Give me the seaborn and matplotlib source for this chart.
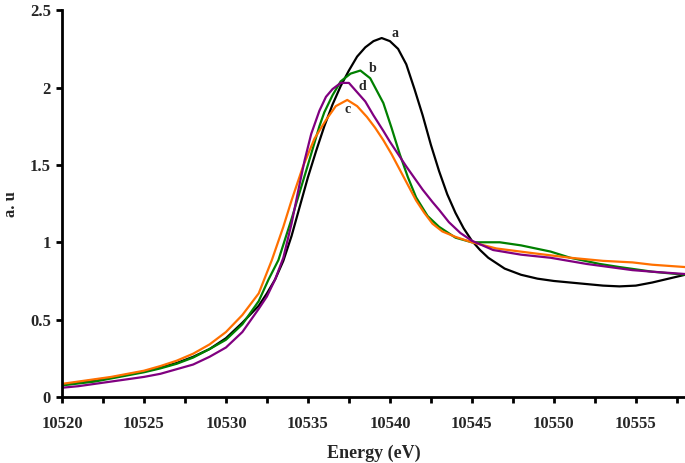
import pandas as pd
import matplotlib
matplotlib.use('Agg')
import matplotlib.pyplot as plt
from matplotlib.ticker import MultipleLocator
import seaborn as sns

# XANES spectra
energy_a = [10520, 10521, 10522, 10523, 10524, 10525, 10526, 10527, 10528, 10529,
            10530, 10531, 10532, 10532.5, 10533, 10533.5, 10534, 10534.5, 10535, 10535.5,
            10536, 10536.5, 10537, 10537.5, 10538, 10538.5, 10539, 10539.5, 10540, 10540.5,
            10541, 10541.5, 10542, 10542.5, 10543, 10543.5, 10544, 10544.5, 10545, 10545.5,
            10546, 10547, 10548, 10549, 10550, 10551, 10552, 10553, 10554, 10555,
            10556, 10557, 10558]
au_a = [0.08, 0.095, 0.11, 0.125, 0.145, 0.165, 0.19, 0.22, 0.26, 0.31,
        0.38, 0.48, 0.59, 0.67, 0.76, 0.88, 1.04, 1.23, 1.42, 1.59,
        1.75, 1.89, 2.01, 2.11, 2.20, 2.26, 2.30, 2.32, 2.30, 2.25,
        2.15, 1.99, 1.82, 1.63, 1.46, 1.31, 1.19, 1.09, 1.01, 0.95,
        0.90, 0.83, 0.79, 0.765, 0.75, 0.74, 0.73, 0.72, 0.715, 0.72,
        0.74, 0.765, 0.79]

energy_b = [10520, 10522, 10524, 10525, 10526, 10527, 10528, 10529, 10530, 10531,
            10532, 10532.6, 10533.2, 10534, 10535, 10535.7, 10536, 10536.5, 10537, 10537.6,
            10538.2, 10538.8, 10539.6, 10540.1, 10540.6, 10541.1, 10541.6, 10542.3, 10543, 10544,
            10545, 10546.7, 10548, 10549.8, 10551, 10552.8, 10554, 10556, 10558]
au_b = [0.075, 0.10, 0.14, 0.16, 0.185, 0.215, 0.255, 0.31, 0.37, 0.47,
        0.62, 0.76, 0.885, 1.15, 1.50, 1.75, 1.84, 1.95, 2.04, 2.09,
        2.11, 2.06, 1.90, 1.74, 1.57, 1.42, 1.29, 1.17, 1.10, 1.03,
        1.0, 1.0, 0.98, 0.94, 0.90, 0.86, 0.84, 0.81, 0.79]

energy_c = [10520, 10521, 10522, 10523, 10524, 10525, 10526, 10527, 10528, 10529,
            10530, 10531, 10532, 10532.8, 10533.5, 10534, 10534.7, 10535.4, 10536.1, 10536.7,
            10537.4, 10538, 10538.6, 10539.1, 10539.6, 10540.1, 10540.6, 10541.1, 10541.6, 10542.1,
            10542.6, 10543.2, 10544, 10545, 10546.5, 10548.7, 10551, 10553, 10554.8, 10556,
            10558]
au_c = [0.085, 0.10, 0.115, 0.13, 0.15, 0.17, 0.20, 0.235, 0.28, 0.34,
        0.42, 0.53, 0.67, 0.885, 1.10, 1.27, 1.49, 1.67, 1.79, 1.88,
        1.92, 1.88, 1.81, 1.74, 1.66, 1.57, 1.47, 1.37, 1.27, 1.19,
        1.12, 1.07, 1.035, 1.0, 0.96, 0.93, 0.90, 0.88, 0.87, 0.855,
        0.84]

energy_d = [10520, 10521, 10522, 10523, 10524, 10525, 10526, 10527, 10528, 10529,
            10530, 10531, 10532, 10532.5, 10533, 10533.5, 10534, 10534.5, 10534.8, 10535.2,
            10535.7, 10536.1, 10536.5, 10537, 10537.5, 10538, 10538.5, 10539, 10539.6, 10540,
            10540.5, 10541, 10541.6, 10542, 10542.6, 10543, 10543.6, 10544.3, 10545, 10546.3,
            10548, 10549.8, 10552, 10554.8, 10556, 10558]
au_d = [0.06, 0.07, 0.085, 0.10, 0.115, 0.13, 0.15, 0.18, 0.21, 0.26,
        0.32, 0.42, 0.57, 0.65, 0.76, 0.90, 1.12, 1.38, 1.53, 1.70,
        1.85, 1.94, 1.99, 2.03, 2.03, 1.97, 1.91, 1.82, 1.72, 1.65,
        1.57, 1.49, 1.40, 1.34, 1.26, 1.21, 1.13, 1.06, 1.01, 0.95,
        0.92, 0.90, 0.86, 0.82, 0.81, 0.795]

sample_names = ["a", "b", "c", "d"]
sample_colors = ["#000000", "#008000", "#FF7000", "#800080"]
# curve label positions (energy, a.u.)
label_x = [10540.3, 10538.95, 10537.4, 10538.3]
label_y = [2.35, 2.12, 1.86, 2.01]

y_ticks = [0, 0.5, 1, 1.5, 2, 2.5]
y_tick_labels = ["0", "0.5", "1", "1.5", "2", "2.5"]

frames = []
for name, e, v in zip(sample_names, [energy_a, energy_b, energy_c, energy_d],
                      [au_a, au_b, au_c, au_d]):
    frames.append(pd.DataFrame({"Energy": e, "au": v, "sample": name}))
df = pd.concat(frames, ignore_index=True)

sns.set_style("ticks")
plt.rcParams['font.family'] = ['Liberation Serif', 'DejaVu Serif']
plt.rcParams['font.weight'] = 'bold'

fig = plt.figure(figsize=(6.85, 4.63), dpi=100)
ax = fig.add_axes([0.0905, 0.1425, 0.9095, 0.8355])

sns.lineplot(data=df, x="Energy", y="au", hue="sample", hue_order=sample_names,
             palette=dict(zip(sample_names, sample_colors)), linewidth=1.6,
             legend=False, sort=False, ax=ax, estimator=None)

for name, lx, ly in zip(sample_names, label_x, label_y):
    ax.text(lx, ly, name, fontsize=10, fontweight="bold", ha="center", va="center")

ax.set_xlim(10520, 10558)
ax.set_ylim(0, 2.5)
ax.xaxis.set_major_locator(MultipleLocator(5))
ax.xaxis.set_minor_locator(MultipleLocator(2.5))
ax.set_yticks(y_ticks)
ax.set_yticklabels(y_tick_labels)

for side in ["top", "right"]:
    ax.spines[side].set_visible(False)
for side in ["left", "bottom"]:
    ax.spines[side].set_linewidth(2)
    ax.spines[side].set_color("black")

ax.tick_params(axis="both", which="both", direction="out", width=2, length=4,
               color="black", labelsize=12, pad=4)
ax.tick_params(axis="x", pad=10)
for lab in ax.get_xticklabels() + ax.get_yticklabels():
    lab.set_fontweight("bold")

ax.set_xlabel("Energy (eV)", fontsize=13, fontweight="bold", labelpad=9)
ax.set_ylabel("a. u", fontsize=12, fontweight="bold", labelpad=8)

fig.savefig("out.png", dpi=100)
plt.close(fig)
